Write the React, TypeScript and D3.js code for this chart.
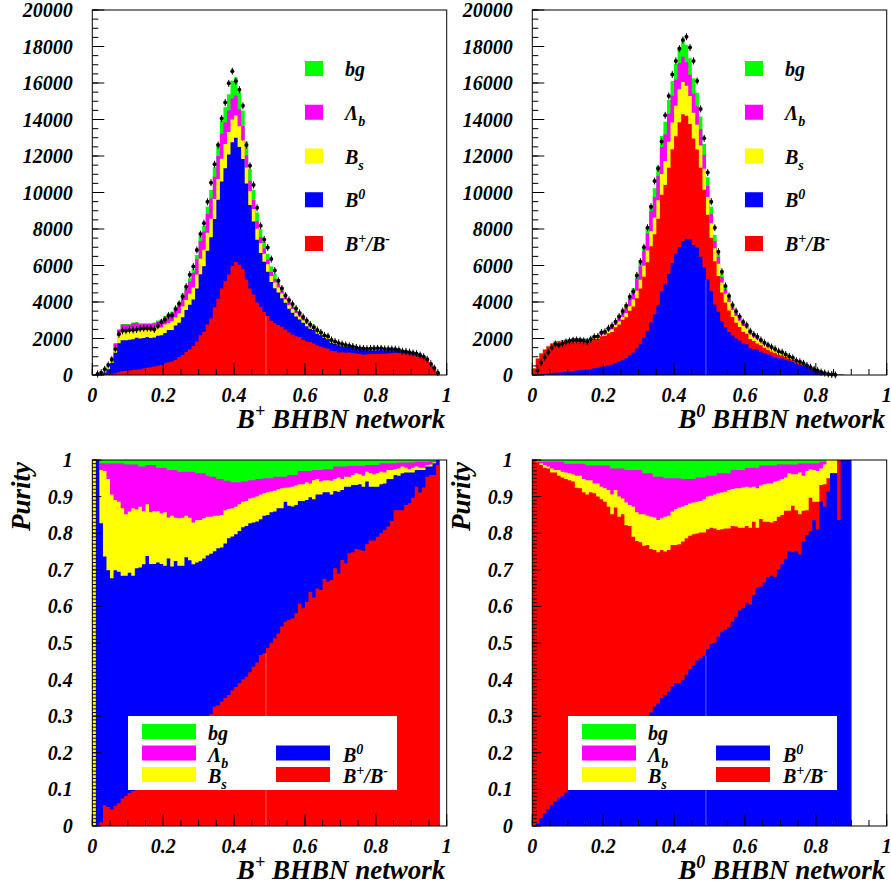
import React from "react";
import * as d3 from "d3";

const FONT = "Liberation Serif, Times New Roman, DejaVu Serif, serif";
const C_BG = "#00ff00";
const C_LB = "#ff00ff";
const C_BS = "#ffff00";
const C_B0 = "#0000ff";
const C_BP = "#ff0000";

const NBINS = 100;
const edges = d3.range(NBINS + 1).map((i) => i / NBINS);

// ---------- B+ BHBN network ----------
const bpTotal = [
  10, 20, 55, 180, 460, 970, 1740, 2500, 2790, 2790,
  2790, 2870, 2900, 2830, 2830, 2830, 2830, 2870, 2980, 3050,
  3230, 3380, 3470, 3740, 4020, 4450, 4850, 5300, 5790, 6580,
  7620, 8160, 9220, 10140, 11380, 12660, 13940, 14670, 15380, 16130,
  16310, 15500, 14500, 12800, 11270, 10140, 8900, 7980, 7310, 6650,
  5940, 5530, 5210, 4840, 4470, 4150, 3900, 3660, 3430, 3230,
  3000, 2820, 2760, 2500, 2400, 2220, 2150, 1950, 1850, 1780,
  1720, 1690, 1650, 1600, 1560, 1530, 1480, 1460, 1470, 1470,
  1460, 1460, 1440, 1440, 1430, 1420, 1400, 1360, 1320, 1280,
  1230, 1170, 1090, 1010, 880, 640, 400, 130, 0, 0,
];
const bpData = [
  0, 55, 130, 310, 550, 840, 1430, 2230, 2420, 2430,
  2470, 2470, 2490, 2540, 2560, 2560, 2560, 2500, 2700, 2890,
  3030, 3250, 3270, 3620, 3900, 4300, 4840, 5500, 5940, 6850,
  7720, 8320, 9490, 10540, 11550, 12600, 14050, 14930, 15980, 16650,
  16090, 15630, 14750, 12600, 11460, 10410, 9160, 8180, 7430, 6990,
  6350, 5720, 5160, 4740, 4350, 4110, 3890, 3650, 3400, 3180,
  2980, 2770, 2600, 2470, 2330, 2170, 2120, 1920, 1830, 1760,
  1700, 1650, 1600, 1560, 1510, 1470, 1450, 1440, 1450, 1460,
  1460, 1460, 1430, 1430, 1420, 1410, 1380, 1300, 1290, 1250,
  1200, 1170, 1090, 1000, 860, 620, 380, 130, 0, 0,
];
// cumulative purity boundaries (bottom -> top): B+, +B0, +Bs, +Lambda_b
const bpCumBp = [
  0, 0, 0.01, 0.057, 0.052, 0.045, 0.055, 0.062, 0.075, 0.082,
  0.09, 0.095, 0.1, 0.11, 0.125, 0.14, 0.15, 0.16, 0.17, 0.18,
  0.195, 0.205, 0.215, 0.225, 0.245, 0.245, 0.26, 0.265, 0.275, 0.28,
  0.285, 0.29, 0.3, 0.305, 0.326, 0.33, 0.34, 0.35, 0.358, 0.37,
  0.38, 0.39, 0.4, 0.408, 0.42, 0.435, 0.447, 0.467, 0.472, 0.486,
  0.501, 0.513, 0.526, 0.545, 0.558, 0.563, 0.567, 0.581, 0.607, 0.595,
  0.612, 0.64, 0.624, 0.649, 0.645, 0.675, 0.668, 0.672, 0.704, 0.69,
  0.727, 0.718, 0.745, 0.748, 0.757, 0.755, 0.752, 0.77, 0.78, 0.78,
  0.79, 0.8, 0.809, 0.818, 0.833, 0.863, 0.863, 0.863, 0.877, 0.882,
  0.897, 0.927, 0.911, 0.925, 0.954, 0.959, 0.959, 0.986, 0, 0,
];
const bpCumB0 = [
  0, 1, 0.827, 0.736, 0.699, 0.677, 0.699, 0.695, 0.684, 0.684,
  0.692, 0.684, 0.704, 0.706, 0.715, 0.738, 0.716, 0.716, 0.72, 0.716,
  0.711, 0.731, 0.709, 0.724, 0.711, 0.711, 0.734, 0.726, 0.715, 0.72,
  0.724, 0.731, 0.739, 0.744, 0.751, 0.759, 0.761, 0.772, 0.786, 0.791,
  0.797, 0.806, 0.816, 0.82, 0.827, 0.829, 0.832, 0.838, 0.848, 0.85,
  0.857, 0.859, 0.868, 0.868, 0.886, 0.875, 0.873, 0.877, 0.888, 0.888,
  0.891, 0.898, 0.893, 0.906, 0.906, 0.912, 0.912, 0.906, 0.915, 0.913,
  0.918, 0.927, 0.927, 0.932, 0.932, 0.934, 0.927, 0.941, 0.927, 0.927,
  0.927, 0.934, 0.936, 0.948, 0.948, 0.959, 0.957, 0.964, 0.966, 0.966,
  0.966, 0.973, 0.973, 0.973, 0.982, 0.982, 0.991, 1, 0, 0,
];
const bpCumBs = [
  1, 1, 0.973, 0.97, 0.948, 0.906, 0.891, 0.886, 0.868, 0.852,
  0.859, 0.868, 0.865, 0.872, 0.86, 0.879, 0.857, 0.86, 0.86, 0.854,
  0.857, 0.843, 0.848, 0.842, 0.841, 0.842, 0.848, 0.842, 0.829, 0.836,
  0.836, 0.841, 0.845, 0.845, 0.848, 0.848, 0.85, 0.863, 0.866, 0.868,
  0.872, 0.879, 0.886, 0.888, 0.895, 0.897, 0.9, 0.906, 0.909, 0.912,
  0.914, 0.916, 0.92, 0.923, 0.924, 0.925, 0.927, 0.93, 0.934, 0.934,
  0.939, 0.936, 0.945, 0.948, 0.941, 0.944, 0.945, 0.943, 0.948, 0.952,
  0.948, 0.954, 0.954, 0.959, 0.964, 0.961, 0.957, 0.968, 0.964, 0.961,
  0.964, 0.968, 0.966, 0.973, 0.973, 0.975, 0.977, 0.982, 0.979, 0.975,
  0.979, 0.982, 0.979, 0.979, 0.986, 0.988, 0.994, 1, 0, 0,
];
const bpCumLb = [
  1, 1, 0.991, 0.991, 0.991, 0.991, 0.991, 0.991, 0.991, 0.988,
  0.988, 0.988, 0.988, 0.982, 0.982, 0.986, 0.986, 0.986, 0.979, 0.979,
  0.979, 0.973, 0.973, 0.973, 0.968, 0.968, 0.968, 0.968, 0.968, 0.964,
  0.964, 0.964, 0.957, 0.954, 0.954, 0.948, 0.948, 0.943, 0.943, 0.939,
  0.939, 0.939, 0.941, 0.941, 0.945, 0.945, 0.948, 0.948, 0.95, 0.95,
  0.95, 0.954, 0.954, 0.954, 0.954, 0.959, 0.959, 0.959, 0.97, 0.97,
  0.97, 0.97, 0.973, 0.973, 0.973, 0.975, 0.975, 0.975, 0.982, 0.982,
  0.982, 0.982, 0.984, 0.984, 0.984, 0.984, 0.984, 0.986, 0.986, 0.986,
  0.986, 0.991, 0.991, 0.991, 0.991, 0.991, 0.993, 0.993, 0.993, 0.993,
  0.993, 0.995, 0.995, 0.995, 0.995, 0.997, 0.997, 1, 0, 0,
];

// ---------- B0 BHBN network ----------
const b0Total = [
  360, 900, 1200, 1420, 1600, 1750, 1830, 1870, 1900, 1950,
  1990, 2020, 2030, 2020, 2000, 1990, 2060, 2170, 2190, 2380,
  2420, 2620, 2760, 3000, 3270, 3550, 3850, 4300, 4750, 5390,
  6120, 7030, 8040, 9320, 10230, 11450, 13100, 13880, 15070, 16110,
  17040, 17990, 18390, 18080, 17350, 16260, 15470, 14160, 12660, 10830,
  9220, 7670, 6700, 5570, 4880, 4350, 3870, 3500, 3220, 2900,
  2760, 2420, 2240, 2120, 1940, 1790, 1660, 1550, 1450, 1320,
  1260, 1140, 1040, 950, 800, 740, 650, 540, 430, 320,
  250, 170, 120, 70, 40, 20, 12, 8, 5, 3,
  0, 0, 0, 0, 0, 0, 0, 0, 0, 0,
];
const b0Data = [
  0, 240, 690, 970, 1250, 1500, 1700, 1650, 1720, 1810,
  1860, 1900, 1920, 1900, 1870, 1840, 1960, 2090, 2110, 2330,
  2370, 2560, 2700, 2920, 3200, 3510, 3800, 4290, 4570, 5450,
  6210, 7000, 8070, 9220, 10630, 11320, 12790, 14230, 15290, 16460,
  17210, 17880, 18360, 18540, 17940, 17210, 16110, 14580, 12970, 11090,
  9500, 8070, 6760, 5660, 4880, 4330, 3840, 3500, 3200, 2900,
  2740, 2400, 2220, 2100, 1920, 1770, 1640, 1530, 1430, 1300,
  1250, 1120, 1020, 940, 780, 730, 640, 520, 420, 310,
  240, 160, 110, 60, 30, 10, 0, 0, 0, 0,
  0, 0, 0, 0, 0, 0, 0, 0, 0, 0,
];
// cumulative purity boundaries (bottom -> top): B0, +B+, +Bs, +Lambda_b
const b0CumB0 = [
  0, 0.007, 0.021, 0.035, 0.046, 0.057, 0.066, 0.076, 0.082, 0.091,
  0.1, 0.11, 0.12, 0.13, 0.14, 0.15, 0.16, 0.17, 0.18, 0.19,
  0.2, 0.205, 0.21, 0.22, 0.225, 0.23, 0.24, 0.25, 0.26, 0.27,
  0.28, 0.29, 0.3, 0.31, 0.326, 0.335, 0.349, 0.358, 0.367, 0.381,
  0.39, 0.39, 0.399, 0.413, 0.429, 0.438, 0.452, 0.458, 0.465, 0.483,
  0.497, 0.501, 0.517, 0.531, 0.536, 0.543, 0.558, 0.572, 0.589, 0.595,
  0.61, 0.605, 0.631, 0.651, 0.654, 0.665, 0.68, 0.684, 0.68, 0.7,
  0.715, 0.73, 0.75, 0.748, 0.75, 0.742, 0.778, 0.795, 0.805, 0.836,
  0.81, 0.886, 0.872, 0.913, 0.964, 0.964, 0.836, 1, 1, 1,
  0, 0, 0, 0, 0, 0, 0, 0, 0, 0,
];
const b0CumBp = [
  1, 0.994, 0.986, 0.979, 0.977, 0.966, 0.966, 0.957, 0.952, 0.948,
  0.945, 0.941, 0.924, 0.923, 0.912, 0.906, 0.912, 0.909, 0.9, 0.893,
  0.886, 0.872, 0.852, 0.87, 0.845, 0.852, 0.822, 0.82, 0.79, 0.779,
  0.775, 0.766, 0.768, 0.757, 0.754, 0.748, 0.754, 0.75, 0.754, 0.768,
  0.768, 0.77, 0.777, 0.786, 0.793, 0.797, 0.799, 0.802, 0.802, 0.811,
  0.815, 0.813, 0.809, 0.811, 0.813, 0.813, 0.82, 0.818, 0.815, 0.815,
  0.82, 0.815, 0.831, 0.815, 0.839, 0.831, 0.831, 0.829, 0.833, 0.845,
  0.85, 0.861, 0.861, 0.875, 0.863, 0.852, 0.861, 0.863, 0.897, 0.886,
  0.886, 0.932, 0.934, 0.95, 0.964, 0.964, 1, 1, 1, 1,
  0, 0, 0, 0, 0, 0, 0, 0, 0, 0,
];
const b0CumBs = [
  1, 0.993, 0.991, 0.986, 0.982, 0.977, 0.973, 0.973, 0.968, 0.966,
  0.964, 0.961, 0.957, 0.957, 0.948, 0.945, 0.945, 0.936, 0.936, 0.927,
  0.923, 0.918, 0.906, 0.918, 0.9, 0.895, 0.884, 0.877, 0.872, 0.857,
  0.852, 0.852, 0.848, 0.845, 0.843, 0.836, 0.841, 0.845, 0.848, 0.859,
  0.866, 0.87, 0.873, 0.877, 0.881, 0.884, 0.886, 0.888, 0.893, 0.9,
  0.902, 0.906, 0.909, 0.911, 0.913, 0.918, 0.921, 0.923, 0.923, 0.925,
  0.927, 0.925, 0.927, 0.923, 0.93, 0.934, 0.936, 0.936, 0.941, 0.943,
  0.948, 0.952, 0.964, 0.961, 0.961, 0.966, 0.957, 0.97, 0.975, 0.973,
  0.97, 0.977, 0.988, 1, 1, 1, 1, 1, 1, 1,
  0, 0, 0, 0, 0, 0, 0, 0, 0, 0,
];
const b0CumLb = [
  1, 0.995, 0.995, 0.995, 0.995, 0.995, 0.995, 0.995, 0.995, 0.99,
  0.99, 0.99, 0.99, 0.99, 0.99, 0.985, 0.985, 0.985, 0.985, 0.985,
  0.985, 0.985, 0.977, 0.977, 0.977, 0.977, 0.973, 0.973, 0.973, 0.973,
  0.973, 0.964, 0.964, 0.964, 0.954, 0.954, 0.954, 0.95, 0.95, 0.95,
  0.95, 0.95, 0.948, 0.948, 0.948, 0.948, 0.952, 0.952, 0.952, 0.957,
  0.957, 0.957, 0.964, 0.964, 0.964, 0.964, 0.973, 0.973, 0.973, 0.973,
  0.979, 0.979, 0.979, 0.979, 0.985, 0.985, 0.985, 0.985, 0.985, 0.988,
  0.988, 0.988, 0.988, 0.988, 0.988, 0.991, 0.991, 0.991, 0.991, 0.991,
  0.991, 0.995, 0.995, 1, 1, 1, 1, 1, 1, 1,
  0, 0, 0, 0, 0, 0, 0, 0, 0, 0,
];

// ---------- axes ----------
const xTickValues = [0, 0.2, 0.4, 0.6, 0.8, 1];
const xTickLabels = ["0", "0.2", "0.4", "0.6", "0.8", "1"];
const histYTicks = [0, 2000, 4000, 6000, 8000, 10000, 12000, 14000, 16000, 18000, 20000];
const purYTicks = [0, 0.1, 0.2, 0.3, 0.4, 0.5, 0.6, 0.7, 0.8, 0.9, 1];
const purYLabels = ["0", "0.1", "0.2", "0.3", "0.4", "0.5", "0.6", "0.7", "0.8", "0.9", "1"];

type Layer = { cum: number[] | null; color: string };

function legendLabel(kind: string) {
  switch (kind) {
    case "bg":
      return [<tspan key="a">bg</tspan>];
    case "lb":
      return [
        <tspan key="a">Λ</tspan>,
        <tspan key="b" dy={6} fontSize={14}>b</tspan>,
      ];
    case "bs":
      return [
        <tspan key="a">B</tspan>,
        <tspan key="b" dy={6} fontSize={14}>s</tspan>,
      ];
    case "b0":
      return [
        <tspan key="a">B</tspan>,
        <tspan key="b" dy={-8} fontSize={14}>0</tspan>,
      ];
    default:
      return [
        <tspan key="a">B</tspan>,
        <tspan key="b" dy={-8} fontSize={14}>+</tspan>,
        <tspan key="c" dy={8}>/B</tspan>,
        <tspan key="d" dy={-8} fontSize={14}>-</tspan>,
      ];
  }
}

const legendColor: Record<string, string> = { bg: C_BG, lb: C_LB, bs: C_BS, b0: C_B0, bp: C_BP };

type PanelProps = {
  left: number;
  top: number;
  width: number;
  height: number;
  mode: "hist" | "purity";
  total: number[];
  data: number[];
  layers: Layer[];
  titleSup: string;
};

function Panel({ left, top, width, height, mode, total, data, layers, titleSup }: PanelProps) {
  const bottom = top + height;
  const x = d3.scaleLinear().domain([0, 1]).range([left, left + width]);
  const y =
    mode === "hist"
      ? d3.scaleLinear().domain([0, 20000]).range([bottom, top])
      : d3.scaleLinear().domain([0, 1]).range([bottom, top]);

  const scaleFor = (i: number) => (mode === "hist" ? total[i] : total[i] > 0 ? 1 : 0);
  const layerVals = layers.map((L) =>
    d3.range(NBINS).map((i) => scaleFor(i) * (L.cum ? L.cum[i] : 1))
  );

  const area = d3
    .area<[number, number]>()
    .x((d) => x(d[0]))
    .y0(y(0))
    .y1((d) => y(d[1]))
    .curve(d3.curveStepAfter);

  const paths = layerVals.map((vals) => {
    const pts: [number, number][] = vals.map((v, i) => [edges[i], v]);
    pts.push([1, vals[NBINS - 1]]);
    return area(pts) || "";
  });

  const seamTop = Math.min(layerVals[0][48], layerVals[0][49]);

  const xMinor = d3.range(0, 1.0001, 0.05);
  const yMinor = mode === "hist" ? d3.range(0, 20001, 500) : d3.range(0, 1.0001, 0.01);
  const yMajor = mode === "hist" ? histYTicks : purYTicks;
  const yLabels = mode === "hist" ? histYTicks.map((v) => String(v)) : purYLabels;
  const yMajLen = mode === "hist" ? 12 : 9;
  const yMinLen = mode === "hist" ? 6 : 4.5;

  const tp = { fontFamily: FONT, fontWeight: 700 as const, fontStyle: "italic" as const };

  return (
    <g>
      {paths
        .map((p, k) => ({ p, k }))
        .reverse()
        .map(({ p, k }) => (
          <path key={k} d={p} fill={layers[k].color} stroke="none" />
        ))}
      {seamTop > 0 && (
        <line
          x1={x(edges[49])}
          x2={x(edges[49])}
          y1={y(0)}
          y2={y(seamTop)}
          stroke="#ffffff"
          strokeOpacity={0.35}
          strokeWidth={1}
        />
      )}
      {mode === "hist" &&
        data.map((v, i) =>
          v > 0 ? (
            <g key={i}>
              <line
                x1={x((edges[i] + edges[i + 1]) / 2)}
                x2={x((edges[i] + edges[i + 1]) / 2)}
                y1={y(v) - 3.5}
                y2={y(v) + 3.5}
                stroke="#000"
                strokeWidth={1}
              />
              <circle cx={x((edges[i] + edges[i + 1]) / 2)} cy={y(v)} r={2} fill="#000" />
            </g>
          ) : null
        )}
      <rect x={left} y={top} width={width} height={height} fill="none" stroke="#000" strokeWidth={1} />
      {xMinor.map((t, i) => (
        <line key={"xm" + i} x1={x(t)} x2={x(t)} y1={bottom} y2={bottom - 6} stroke="#000" strokeWidth={1} />
      ))}
      {xTickValues.map((t, i) => (
        <line key={"xM" + i} x1={x(t)} x2={x(t)} y1={bottom} y2={bottom - 12} stroke="#000" strokeWidth={1} />
      ))}
      {yMinor.map((t, i) => (
        <line key={"ym" + i} x1={left} x2={left + yMinLen} y1={y(t)} y2={y(t)} stroke="#000" strokeWidth={1} />
      ))}
      {yMajor.map((t, i) => (
        <line key={"yM" + i} x1={left} x2={left + yMajLen} y1={y(t)} y2={y(t)} stroke="#000" strokeWidth={1} />
      ))}
      {xTickValues.map((t, i) => (
        <text key={"xl" + i} x={x(t)} y={bottom + 27} textAnchor="middle" fontSize={20} {...tp}>
          {xTickLabels[i]}
        </text>
      ))}
      {yMajor.map((t, i) => (
        <text key={"yl" + i} x={left - 19.6} y={y(t) + 7} textAnchor="end" fontSize={20} {...tp}>
          {yLabels[i]}
        </text>
      ))}
      <text x={left + width - 1.5} y={bottom + 53} textAnchor="end" fontSize={27} {...tp}>
        <tspan>B</tspan>
        <tspan dy={-11} fontSize={18}>{titleSup}</tspan>
        <tspan dy={11}> BHBN network</tspan>
      </text>
      {mode === "purity" && (
        <text
          transform={`translate(${left - 62},${top + 2}) rotate(-90)`}
          textAnchor="end"
          fontSize={27}
          {...tp}
        >
          Purity
        </text>
      )}
      {mode === "hist"
        ? ["bg", "lb", "bs", "b0", "bp"].map((k, r) => (
            <g key={"lg" + k}>
              <rect x={left + 212.7} y={top + 51 + r * 43.75} width={18} height={15} fill={legendColor[k]} />
              <text x={left + 252.7} y={top + 66 + r * 43.75} fontSize={20} {...tp}>
                {legendLabel(k)}
              </text>
            </g>
          ))
        : (
          <g>
            <rect x={left + 35.7} y={top + 256} width={269} height={74} fill="#ffffff" />
            {[
              { k: "bg", c: 0, r: 0 },
              { k: "lb", c: 0, r: 1 },
              { k: "bs", c: 0, r: 2 },
              { k: "b0", c: 1, r: 1 },
              { k: "bp", c: 1, r: 2 },
            ].map(({ k, c, r }) => (
              <g key={"lb" + k}>
                <rect
                  x={left + 49.7 + c * 134}
                  y={top + 264 + r * 21.5}
                  width={54}
                  height={15}
                  fill={legendColor[k]}
                />
                <text x={left + 115.7 + c * 135} y={top + 280 + r * 21.5} fontSize={20} {...tp}>
                  {legendLabel(k)}
                </text>
              </g>
            ))}
          </g>
        )}
    </g>
  );
}

export default function App() {
  const W = 354.4;
  const bpLayers: Layer[] = [
    { cum: bpCumBp, color: C_BP },
    { cum: bpCumB0, color: C_B0 },
    { cum: bpCumBs, color: C_BS },
    { cum: bpCumLb, color: C_LB },
    { cum: null, color: C_BG },
  ];
  const b0Layers: Layer[] = [
    { cum: b0CumB0, color: C_B0 },
    { cum: b0CumBp, color: C_BP },
    { cum: b0CumBs, color: C_BS },
    { cum: b0CumLb, color: C_LB },
    { cum: null, color: C_BG },
  ];
  return (
    <svg
      width={891}
      height={888}
      viewBox="0 0 891 888"
      style={{ position: "absolute", left: 0, top: 0, background: "#fff" }}
    >
      <rect x={0} y={0} width={891} height={888} fill="#fff" />
      <Panel left={92.3} top={10} width={W} height={365} mode="hist" total={bpTotal} data={bpData} layers={bpLayers} titleSup="+" />
      <Panel left={532.3} top={10} width={W} height={365} mode="hist" total={b0Total} data={b0Data} layers={b0Layers} titleSup="0" />
      <Panel left={92.3} top={460} width={W} height={366} mode="purity" total={bpTotal} data={bpData} layers={bpLayers} titleSup="+" />
      <Panel left={532.3} top={460} width={W} height={366} mode="purity" total={b0Total} data={b0Data} layers={b0Layers} titleSup="0" />
    </svg>
  );
}
